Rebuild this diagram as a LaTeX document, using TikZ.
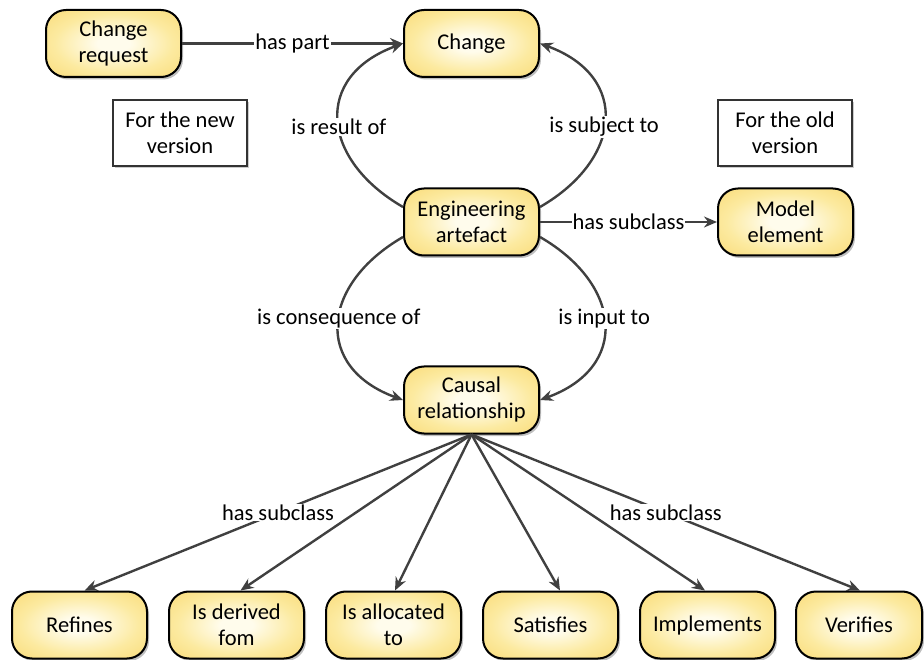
\documentclass[tikz,border=0pt]{standalone}
\usepackage{fontspec}
\setmainfont{Carlito}
\usetikzlibrary{arrows.meta,shadows,calc}
\definecolor{edgegray}{RGB}{64,64,64}
\definecolor{nodeouter}{RGB}{248,213,104}
\definecolor{nodemid}{RGB}{252,234,160}
\definecolor{nodeinner}{RGB}{255,252,236}
\pgfdeclareradialshading{conceptglow}{\pgfpoint{0bp}{0bp}}{%
  color(0bp)=(nodeinner); color(6bp)=(nodeinner); color(22bp)=(nodemid);
  color(42bp)=(nodeouter); color(50bp)=(nodeouter)}
\begin{document}
\begin{tikzpicture}[x=1pt,y=1pt,
  txt/.style={font=\fontsize{22.5}{26}\selectfont},
  concept/.style={txt, draw=black, line width=2pt, rounded corners=20pt,
    minimum width=135pt, minimum height=67pt, align=center,
    shading=conceptglow,
    drop shadow={shadow xshift=2pt, shadow yshift=-2.5pt, opacity=0.25, fill=black}},
  note/.style={txt, draw=black!80, line width=1.3pt, fill=white,
    minimum width=134pt, minimum height=66pt, align=center,
    drop shadow={shadow xshift=2pt, shadow yshift=-2pt, opacity=0.2, fill=black}},
  rel/.style={draw=edgegray, line width=2.4pt, -{Stealth[length=13pt,width=11pt]}},
  lbl/.style={txt, fill=white, inner sep=1pt, text=black}]

\useasboundingbox (0,0) rectangle (924,-660);

% upper concepts
\node[concept] (creq)   at (113.5,-43.5) {Change\\request};
\node[concept] (change) at (471.5,-43.5) {Change};
\node[concept] (ea)     at (471.5,-222)  {Engineering\\artefact};
\node[concept] (model)  at (785.5,-222)  {Model\\element};
\node[concept] (cr)     at (471.5,-400)  {Causal\\relationship};

% version notes
\node[note] (newv) at (180,-133) {For the new\\version};
\node[note] (oldv) at (785,-133) {For the old\\version};

% subclasses of causal relationship
\node[concept] (refines)   at (79.5,-625)  {Refines};
\node[concept] (derived)   at (236.5,-625) {Is derived\\fom};
\node[concept] (allocated) at (393.5,-625) {Is allocated\\to};
\node[concept] (satisfies) at (550.5,-625) {Satisfies};
\node[concept] (implements) at (707.5,-625) {Implements};
\node[concept, minimum width=126pt] (verifies) at (859,-625) {Verifies};

% relations
\draw[rel] (creq.east) -- node[lbl]{has part} (change.west);
\draw[rel] ($(ea.west)+(0,15)$) to[out=150,in=200,looseness=1.5]
  node[lbl,pos=0.46]{is result of} (change.west);
\draw[rel] ($(ea.east)+(0,15)$) to[out=30,in=-20,looseness=1.5]
  node[lbl,pos=0.46]{is subject to} (change.east);
\draw[rel] (ea.east) -- node[lbl]{has subclass} (model.west);
\draw[rel] ($(ea.west)+(0,-15)$) to[out=210,in=160,looseness=1.5]
  node[lbl,pos=0.47]{is consequence of} (cr.west);
\draw[rel] ($(ea.east)+(0,-15)$) to[out=-30,in=20,looseness=1.5]
  node[lbl,pos=0.47]{is input to} (cr.east);

\draw[rel] (cr.south) -- node[lbl]{has subclass} ([xshift=5pt]refines.north);
\draw[rel] (cr.south) -- ([xshift=4pt]derived.north);
\draw[rel] (cr.south) -- ([xshift=1.5pt]allocated.north);
\draw[rel] (cr.south) -- ([xshift=9.5pt]satisfies.north);
\draw[rel] (cr.south) -- ([xshift=-2.5pt]implements.north);
\draw[rel] (cr.south) -- node[lbl]{has subclass} ([xshift=1pt]verifies.north);
\end{tikzpicture}
\end{document}
